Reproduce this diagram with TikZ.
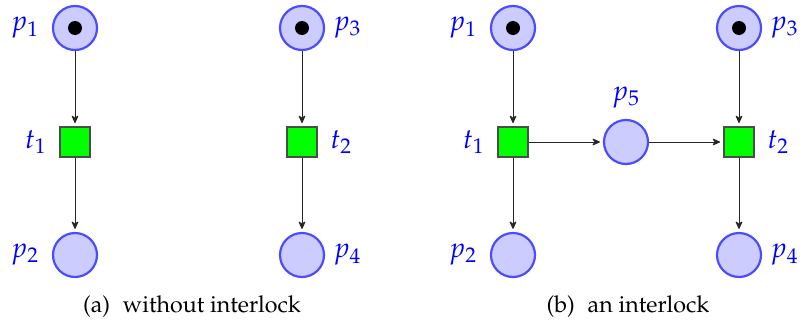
\documentclass[tikz,border=0pt]{standalone}
\usepackage[T1]{fontenc}
\usepackage{mathpazo}
\usetikzlibrary{arrows.meta}
\begin{document}
\begin{tikzpicture}[x=0.5pt,y=-0.5pt,
  place/.style={circle,draw=blue!70,fill=blue!20,line width=1.1pt,minimum size=22pt,inner sep=0pt},
  transition/.style={rectangle,draw=black!70,fill=green,line width=1pt,minimum size=15pt,inner sep=0pt},
  token/.style={circle,fill=black,minimum size=7pt,inner sep=0pt},
  lbl/.style={text=blue,font=\fontsize{14}{16}\selectfont,inner sep=0pt},
  captxt/.style={font=\fontsize{11.6}{13}\selectfont,inner sep=0pt},
  arc/.style={-{Stealth[round,length=4.5pt,width=4pt]},line width=0.5pt,draw=black!85,shorten >=1.5pt}]
\useasboundingbox (0,0) rectangle (803,327);
% (a)
\node[place] (p1) at (75,28) {};
\node[token] (k1) at (p1) {};
\node[transition] (t1) at (75,142) {};
\node[place] (p2) at (75,255) {};
\node[place] (p3) at (302,28) {};
\node[token] (k3) at (p3) {};
\node[transition] (t2) at (302,142) {};
\node[place] (p4) at (302,255) {};
\node[lbl,anchor=east] (lp1) at ([xshift=-6.3pt]p1.west) {$p_1$};
\node[lbl,anchor=east] (lt1) at ([xshift=-6pt]t1.west) {$t_1$};
\node[lbl,anchor=east] (lp2) at ([xshift=-6.3pt]p2.west) {$p_2$};
\node[lbl,anchor=west] (lp3) at ([xshift=4pt]p3.east) {$p_3$};
\node[lbl,anchor=west] (lt2) at ([xshift=6pt]t2.east) {$t_2$};
\node[lbl,anchor=west] (lp4) at ([xshift=4pt]p4.east) {$p_4$};
\draw[arc] (p1) -- (t1);
\draw[arc] (t1) -- (p2);
\draw[arc] (p3) -- (t2);
\draw[arc] (t2) -- (p4);
\node[captxt] (capa) at (192,307) {(a)\hspace{0.55em}without interlock};
% (b)
\node[place] (q1) at (513,28) {};
\node[token] (m1) at (q1) {};
\node[transition] (u1) at (513,142) {};
\node[place] (q2) at (513,255) {};
\node[place] (q3) at (739,28) {};
\node[token] (m3) at (q3) {};
\node[transition] (u2) at (739,142) {};
\node[place] (q4) at (739,255) {};
\node[place] (q5) at (626,142) {};
\node[lbl,anchor=east] (lq1) at ([xshift=-6.3pt]q1.west) {$p_1$};
\node[lbl,anchor=east] (lu1) at ([xshift=-6pt]u1.west) {$t_1$};
\node[lbl,anchor=east] (lq2) at ([xshift=-6.3pt]q2.west) {$p_2$};
\node[lbl,anchor=west] (lq3) at ([xshift=4pt]q3.east) {$p_3$};
\node[lbl,anchor=west] (lu2) at ([xshift=6pt]u2.east) {$t_2$};
\node[lbl,anchor=west] (lq4) at ([xshift=4pt]q4.east) {$p_4$};
\node[lbl,anchor=south] (lq5) at ([yshift=5pt]q5.north) {$p_5$};
\draw[arc] (q1) -- (u1);
\draw[arc] (u1) -- (q2);
\draw[arc] (q3) -- (u2);
\draw[arc] (u2) -- (q4);
\draw[arc] (u1) -- (q5);
\draw[arc] (q5) -- (u2);
\node[captxt] (capb) at (628,307) {(b)\hspace{0.55em}an interlock};
\end{tikzpicture}
\end{document}
